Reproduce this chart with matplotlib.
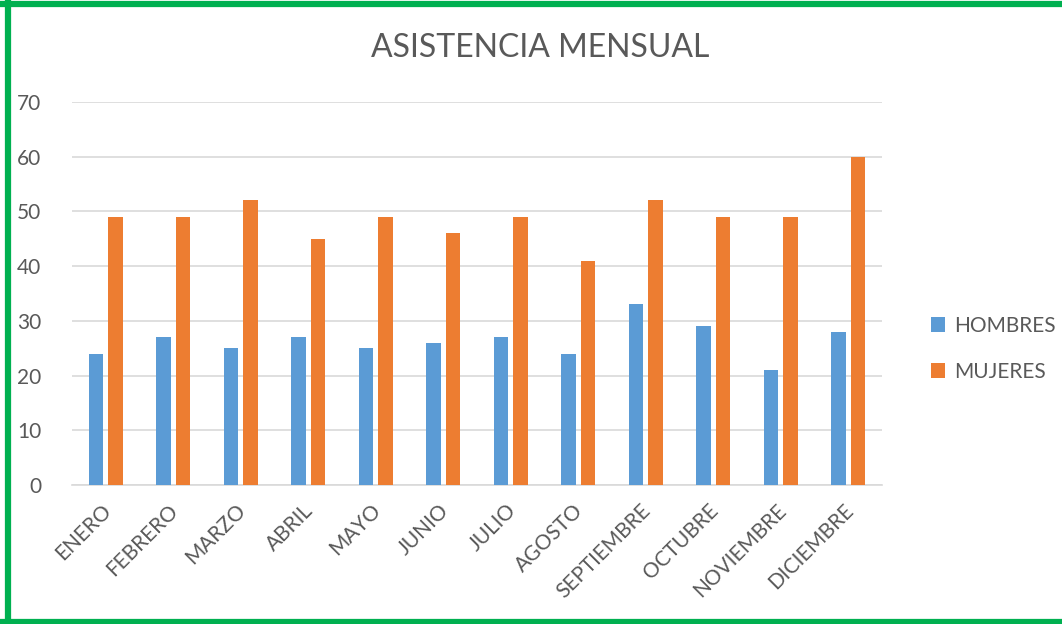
import matplotlib
matplotlib.use("Agg")
import matplotlib.pyplot as plt
import matplotlib.transforms as mtransforms
import numpy as np
from matplotlib.lines import Line2D

meses = ["ENERO", "FEBRERO", "MARZO", "ABRIL", "MAYO", "JUNIO", "JULIO",
         "AGOSTO", "SEPTIEMBRE", "OCTUBRE", "NOVIEMBRE", "DICIEMBRE"]
hombres = [24, 27, 25, 27, 25, 26, 27, 24, 33, 29, 21, 28]
mujeres = [49, 49, 52, 45, 49, 46, 49, 41, 52, 49, 49, 60]
yticks = [0, 10, 20, 30, 40, 50, 60, 70]

plt.rcParams['font.family'] = ['Lato', 'DejaVu Sans']
W, H = 1062, 624
fig = plt.figure(figsize=(W/100, H/100), dpi=100)
ax = fig.add_axes([72/W, 1-485/H, (882-72)/W, (485-102)/H])

x = np.arange(len(meses))
bw = 0.22
off = 0.145
ax.bar(x - off, hombres, bw, color="#5B9BD5", label="HOMBRES", zorder=3)
ax.bar(x + off, mujeres, bw, color="#ED7D31", label="MUJERES", zorder=3)

ax.set_xlim(-0.5, len(meses) - 0.5)
ax.set_ylim(0, 70)
ax.set_yticks(yticks)
ax.yaxis.grid(True, color="#D9D9D9", linewidth=1.2, zorder=0)
for s in ["top", "right", "left"]:
    ax.spines[s].set_visible(False)
ax.spines["bottom"].set_color("#D9D9D9")
ax.spines["bottom"].set_linewidth(1.2)
ax.tick_params(axis="both", length=0, colors="#595959", labelsize=15)
ax.tick_params(axis="y", pad=22)
ax.set_xticks(x)
ax.set_xticklabels(meses, rotation=45, ha="right", rotation_mode="anchor")
ax.tick_params(axis="x", pad=11)
shift = mtransforms.ScaledTranslation(-5/100, 0, fig.dpi_scale_trans)
for lbl in ax.get_xticklabels():
    lbl.set_transform(lbl.get_transform() + shift)

fig.text(540/W, 1-48/H, "ASISTENCIA MENSUAL", ha="center", va="center",
         fontsize=23, color="#595959")

leg = fig.legend(loc="center left", bbox_to_anchor=(912/W, 1-349/H), frameon=False,
                 fontsize=15, handlelength=0.7, handleheight=0.7,
                 handletextpad=0.4, labelspacing=1.25, labelcolor="#595959")

green = "#00B050"
lw = 4.5
fig.add_artist(Line2D([7.5/W, 7.5/W], [0, 1], transform=fig.transFigure, color=green, lw=lw))
fig.add_artist(Line2D([0, 1], [1-3.5/H, 1-3.5/H], transform=fig.transFigure, color=green, lw=lw))
fig.add_artist(Line2D([0, 1], [1-622/H, 1-622/H], transform=fig.transFigure, color=green, lw=lw))

fig.savefig("out.png", dpi=100)
